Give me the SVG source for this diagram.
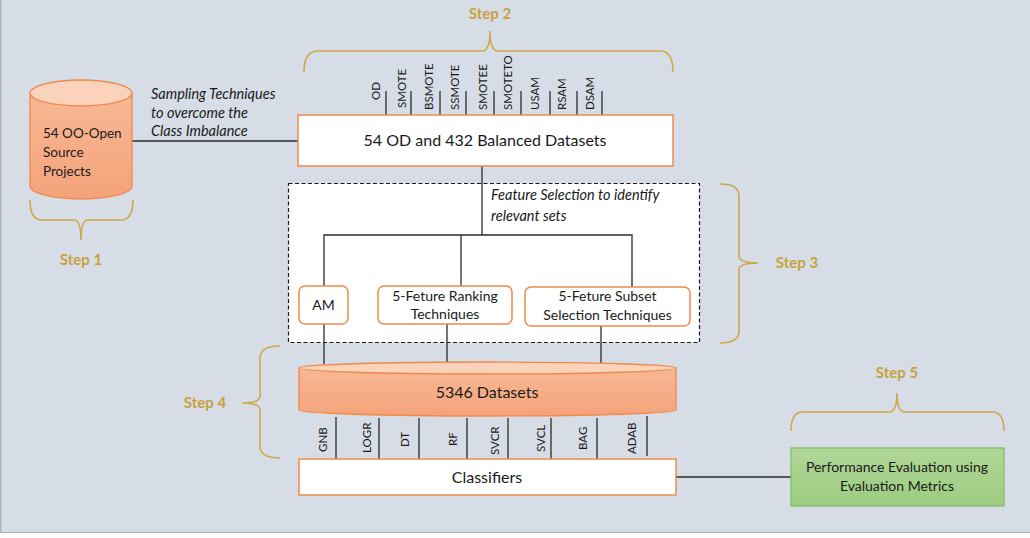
<svg xmlns="http://www.w3.org/2000/svg" width="1030" height="538" viewBox="0 0 1030 538">
<defs>
<linearGradient id="cylBody" x1="0" y1="0" x2="0" y2="1">
<stop offset="0" stop-color="#f7b894"/>
<stop offset="1" stop-color="#f4a37a"/>
</linearGradient>
<linearGradient id="green" x1="0" y1="0" x2="0" y2="1">
<stop offset="0" stop-color="#b0d697"/>
<stop offset="1" stop-color="#9dcc80"/>
</linearGradient>
<style>
.t{font-family:Lato,"Liberation Sans",sans-serif;fill:#1a1a1a;}
.it{font-family:Lato,"Liberation Sans",sans-serif;font-style:italic;fill:#1a1a1a;font-size:14.5px;}
.step{font-family:Lato,"Liberation Sans",sans-serif;fill:#c9a23c;font-size:15px;font-weight:bold;}
.brace{fill:none;stroke:#cfa84a;stroke-width:1.6;}
.ln{stroke:#2b2b2b;stroke-width:1.3;fill:none;}
.box{fill:#ffffff;stroke:#f08a4b;stroke-width:1.5;}
.cyl{fill:url(#cylBody);stroke:#f08a4b;stroke-width:1.3;}
.cyltop{fill:#fbd3bb;stroke:#f08a4b;stroke-width:1.3;}
.vl{font-family:Lato,"Liberation Sans",sans-serif;fill:#1a1a1a;font-size:11.5px;text-anchor:start;}
</style>
</defs>
<rect x="0" y="0" width="1030" height="538" fill="#ffffff"/>
<rect x="0" y="0" width="1030" height="532" fill="#d6dde6"/>
<line x1="0" y1="532.5" x2="1030" y2="532.5" stroke="#a9adb2" stroke-width="1.2"/>
<line x1="0.8" y1="0" x2="0.8" y2="532" stroke="#a9adb2" stroke-width="1.2"/>

<g id="braces">
<path class="brace" d="M30,200 Q30,220 42,220 L74,220 Q81,220 81,240 Q81,220 88,220 L121,220 Q133,220 133,200"/>
<path class="brace" d="M304,72 Q304,51 318,51 L482,51 Q490,51 490,31 Q490,51 498,51 L660,51 Q673,51 673,72"/>
<path class="brace" d="M720,184 Q739,184 739,196 L739,256 Q739,263 758,263 Q739,263 739,270 L739,331 Q739,343 720,343"/>
<path class="brace" d="M280,346 Q260,346 260,358 L260,396 Q260,403 242,403 Q260,403 260,410 L260,446 Q260,458 280,458"/>
<path class="brace" d="M791,431 Q791,412 803,412 L889,412 Q897,412 897,393 Q897,412 905,412 L992,412 Q1004,412 1004,431"/>
</g>

<g id="steps">
<text class="step" x="81" y="265" text-anchor="middle">Step 1</text>
<text class="step" x="490" y="19" text-anchor="middle">Step 2</text>
<text class="step" x="797" y="268" text-anchor="middle">Step 3</text>
<text class="step" x="205" y="408" text-anchor="middle">Step 4</text>
<text class="step" x="897" y="378" text-anchor="middle">Step 5</text>
</g>

<g id="feature-selection">
<rect x="288.5" y="183.5" width="411" height="159" fill="#ffffff" stroke="#1a1a1a" stroke-width="1.2" stroke-dasharray="4 2.5"/>
<text class="it" x="491" y="200">Feature Selection to identify</text>
<text class="it" x="491" y="221">relevant sets</text>
</g>

<g id="connectors">
<line class="ln" x1="132" y1="141" x2="298" y2="141"/>
<line class="ln" x1="482" y1="166" x2="482" y2="235"/>
<polyline class="ln" points="324,286 324,235 632,235 632,287"/>
<line class="ln" x1="461" y1="235" x2="461" y2="286"/>
<line class="ln" x1="324" y1="324" x2="324" y2="364"/>
<line class="ln" x1="447" y1="324" x2="447" y2="363"/>
<line class="ln" x1="601" y1="326" x2="601" y2="363"/>
<line class="ln" x1="676" y1="477" x2="791" y2="477"/>
<g id="sampling-ticks">
<line class="ln" x1="386" y1="91" x2="386" y2="115"/>
<line class="ln" x1="411" y1="91" x2="411" y2="115"/>
<line class="ln" x1="440" y1="91" x2="440" y2="115"/>
<line class="ln" x1="466" y1="91" x2="466" y2="115"/>
<line class="ln" x1="494" y1="91" x2="494" y2="115"/>
<line class="ln" x1="521" y1="91" x2="521" y2="115"/>
<line class="ln" x1="550" y1="91" x2="550" y2="115"/>
<line class="ln" x1="577" y1="91" x2="577" y2="115"/>
<line class="ln" x1="602" y1="91" x2="602" y2="115"/>
</g>
<g id="classifier-ticks">
<line class="ln" x1="336" y1="417" x2="336" y2="459"/>
<line class="ln" x1="379" y1="418" x2="379" y2="459"/>
<line class="ln" x1="419" y1="418" x2="419" y2="459"/>
<line class="ln" x1="467" y1="418" x2="467" y2="459"/>
<line class="ln" x1="508" y1="418" x2="508" y2="459"/>
<line class="ln" x1="551" y1="418" x2="551" y2="459"/>
<line class="ln" x1="597" y1="418" x2="597" y2="459"/>
<line class="ln" x1="647" y1="416" x2="647" y2="456"/>
</g>
</g>

<g id="connector-labels">
<text class="it" x="151" y="99">Sampling Techniques</text>
<text class="it" x="151" y="118">to overcome the</text>
<text class="it" x="151" y="136">Class Imbalance</text>
<text class="vl" transform="translate(380,100) rotate(-90)">OD</text>
<text class="vl" transform="translate(406,108) rotate(-90)">SMOTE</text>
<text class="vl" transform="translate(433,110) rotate(-90)">BSMOTE</text>
<text class="vl" transform="translate(459,110) rotate(-90)">SSMOTE</text>
<text class="vl" transform="translate(487,110) rotate(-90)">SMOTEE</text>
<text class="vl" transform="translate(512,110) rotate(-90)">SMOTETO</text>
<text class="vl" transform="translate(539,110) rotate(-90)">USAM</text>
<text class="vl" transform="translate(566,110) rotate(-90)">RSAM</text>
<text class="vl" transform="translate(594,110) rotate(-90)">DSAM</text>
<text class="vl" transform="translate(327,452) rotate(-90)">GNB</text>
<text class="vl" transform="translate(371,453) rotate(-90)">LOGR</text>
<text class="vl" transform="translate(409,447) rotate(-90)">DT</text>
<text class="vl" transform="translate(457,446) rotate(-90)">RF</text>
<text class="vl" transform="translate(499,455) rotate(-90)">SVCR</text>
<text class="vl" transform="translate(545,452) rotate(-90)">SVCL</text>
<text class="vl" transform="translate(587,450) rotate(-90)">BAG</text>
<text class="vl" transform="translate(636,454) rotate(-90)">ADAB</text>
</g>

<g id="source-projects">
<path class="cyl" d="M30,93 L30,186 A51,13 0 0 0 132,186 L132,93 Z"/>
<ellipse class="cyltop" cx="81" cy="93" rx="51" ry="13"/>
<text class="t" x="43" y="138" font-size="13.5">54 OO-Open</text>
<text class="t" x="43" y="157" font-size="13.5">Source</text>
<text class="t" x="43" y="176" font-size="13.5">Projects</text>
</g>

<g id="balanced-datasets">
<rect class="box" x="298" y="115" width="375" height="51"/>
<text class="t" x="485" y="146" font-size="16" text-anchor="middle">54 OD and 432 Balanced Datasets</text>
</g>

<g id="am">
<rect class="box" x="299" y="286" width="49" height="38" rx="6"/>
<text class="t" x="323.5" y="310" font-size="14" text-anchor="middle">AM</text>
</g>
<g id="ranking">
<rect class="box" x="378" y="286" width="134" height="38" rx="6"/>
<text class="t" x="445" y="301" font-size="14" text-anchor="middle">5-Feture Ranking</text>
<text class="t" x="445" y="319" font-size="14" text-anchor="middle">Techniques</text>
</g>
<g id="subset">
<rect class="box" x="525" y="287" width="165" height="39" rx="6"/>
<text class="t" x="607.5" y="301" font-size="14" text-anchor="middle">5-Feture Subset</text>
<text class="t" x="607.5" y="320" font-size="14" text-anchor="middle">Selection Techniques</text>
</g>

<g id="datasets-5346">
<path class="cyl" d="M299,368 L299,410 A188.5,6 0 0 0 676,410 L676,368 Z"/>
<ellipse class="cyltop" cx="487.5" cy="368" rx="188.5" ry="6"/>
<text class="t" x="487" y="398" font-size="16" text-anchor="middle">5346 Datasets</text>
</g>

<g id="classifiers">
<rect class="box" x="299" y="459" width="377" height="36"/>
<text class="t" x="487" y="483" font-size="16" text-anchor="middle">Classifiers</text>
</g>

<g id="performance">
<rect x="791" y="448" width="213" height="58" fill="url(#green)" stroke="#84c066" stroke-width="1.3"/>
<text class="t" x="897" y="472" font-size="14" text-anchor="middle">Performance Evaluation using</text>
<text class="t" x="897" y="491" font-size="14" text-anchor="middle">Evaluation Metrics</text>
</g>
</svg>
